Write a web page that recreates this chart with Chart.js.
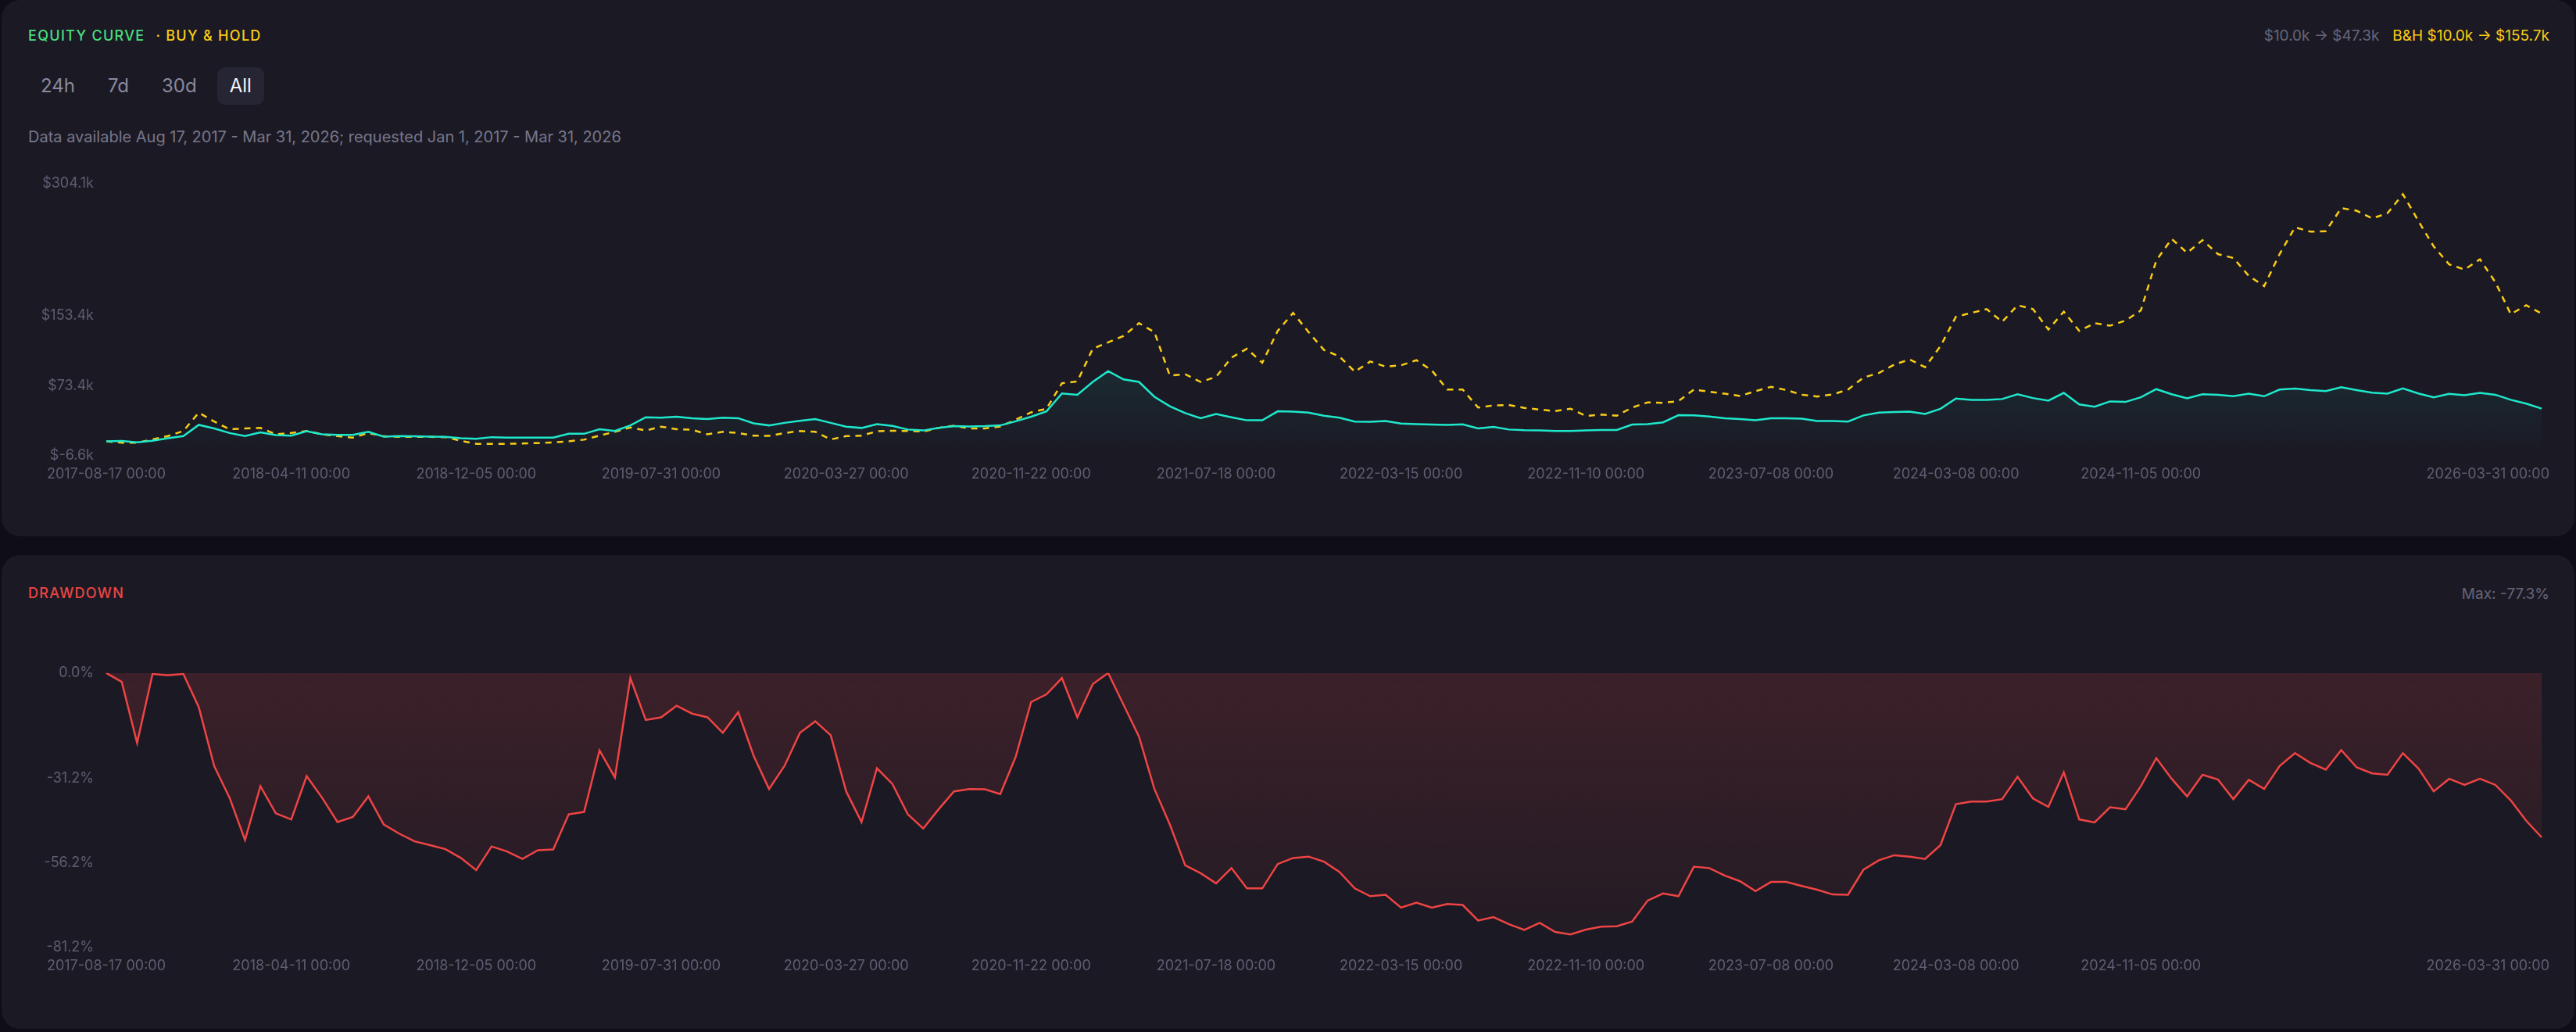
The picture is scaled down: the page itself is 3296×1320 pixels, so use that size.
<!DOCTYPE html>
<html>
<head>
<meta charset="utf-8">
<title>Equity curve</title>
<script src="https://cdn.jsdelivr.net/npm/chart.js@4.4.1/dist/chart.umd.min.js"></script>
<style>
  html, body {
    margin: 0;
    padding: 0;
    width: 3296px;
    height: 1320px;
    overflow: hidden;
    background: #0f0e17;
    font-family: Inter, "Noto Sans", sans-serif;
  }
  .card {
    position: absolute;
    left: 2px;
    width: 3292px;
    background: #1b1a24;
    border-radius: 24px;
  }
  #equityCard { top: 0; height: 686px; }
  #ddCard { top: 710px; height: 606px; }
  .label {
    position: absolute;
    font-size: 18px;
    line-height: 20px;
    white-space: nowrap;
  }
  .caps { font-weight: 500; letter-spacing: 1.3px; }
  .green { color: #4ade80; }
  .yellow { color: #facc15; }
  .red { color: #ef4444; }
  .muted { color: #66657a; }
  #ranges {
    position: absolute;
    left: 36px;
    top: 86px;
    display: flex;
    gap: 10px;
  }
  #ranges span {
    height: 48px;
    line-height: 48px;
    padding: 0 16px;
    border-radius: 10px;
    font-size: 24px;
    color: #8a899e;
  }
  #ranges span.active { background: #262533; color: #f4f4f8; }
  .chartBox { position: absolute; left: 36px; width: 3226px; }
</style>
</head>
<body>
<div class="card" id="equityCard"></div>
<div class="card" id="ddCard"></div>

<div class="label caps" style="left:36px; top:36px;">
  <span class="green">EQUITY CURVE</span><span class="yellow" style="margin-left:14px;">· BUY &amp; HOLD</span>
</div>
<div class="label" style="right:34px; top:36px; font-size:19px;">
  <span class="muted">$10.0k → $47.3k</span><span class="yellow" style="margin-left:17px;">B&amp;H $10.0k → $155.7k</span>
</div>
<div id="ranges"><span>24h</span><span>7d</span><span>30d</span><span class="active">All</span></div>
<div class="label" style="left:36px; top:164px; font-size:20px; line-height:22px; color:#77768b;">Data available Aug 17, 2017 - Mar 31, 2026; requested Jan 1, 2017 - Mar 31, 2026</div>
<div class="chartBox" style="top:208px; height:415px;"><canvas id="equityChart"></canvas></div>

<div class="label caps red" style="left:36px; top:749px;">DRAWDOWN</div>
<div class="label muted" style="right:34px; top:750px; font-size:19px;">Max: -77.3%</div>
<div class="chartBox" style="top:834px; height:418px;"><canvas id="drawdownChart"></canvas></div>

<script>
// Dates shown under both charts, one every TICK_EVERY points
const DATE_TICKS = [
    '2017-08-17 00:00', '2018-04-11 00:00', '2018-12-05 00:00', '2019-07-31 00:00',
    '2020-03-27 00:00', '2020-11-22 00:00', '2021-07-18 00:00', '2022-03-15 00:00',
    '2022-11-10 00:00', '2023-07-08 00:00', '2024-03-08 00:00', '2024-11-05 00:00'
];
const END_DATE = '2026-03-31 00:00';
const TICK_EVERY = 12;

// Strategy equity, thousands of dollars
const EQUITY_K = [
    10.0, 10.3, 8.9, 10.6, 13.5, 15.9, 28.7, 24.6, 19.4, 15.9, 20.2, 17.0,
    16.4, 21.4, 17.9, 17.3, 17.3, 20.8, 15.3, 15.9, 15.6, 15.3, 15.0, 13.5,
    12.9, 14.7, 14.1, 14.1, 14.1, 14.1, 18.5, 18.5, 23.7, 21.7, 28.1, 37.4,
    36.9, 38.0, 36.3, 35.4, 36.9, 36.3, 30.4, 28.1, 31.0, 33.4, 35.4, 31.0,
    26.7, 25.2, 29.6, 27.5, 23.4, 22.3, 25.2, 27.2, 26.9, 27.2, 28.1, 32.8,
    38.0, 44.2, 64.6, 63.1, 77.7, 90.0, 80.6, 77.7, 60.8, 50.0, 42.1, 36.3,
    41.2, 37.4, 33.9, 33.9, 44.2, 43.9, 42.7, 39.2, 36.9, 32.5, 32.2, 33.1,
    30.2, 29.6, 29.0, 28.7, 29.3, 24.6, 26.4, 23.4, 22.6, 22.3, 21.7, 21.7,
    22.3, 22.9, 22.9, 29.0, 29.6, 31.6, 39.8, 39.5, 38.3, 36.3, 35.4, 33.9,
    36.3, 36.3, 35.7, 33.1, 33.1, 32.5, 39.5, 42.7, 43.3, 43.9, 41.2, 47.1,
    58.7, 57.3, 57.3, 58.2, 63.7, 59.3, 56.4, 65.2, 52.0, 49.4, 55.5, 54.9,
    60.2, 69.5, 63.7, 59.0, 63.7, 63.1, 61.4, 64.3, 61.4, 69.0, 70.1, 68.4,
    67.2, 71.6, 68.4, 65.5, 64.3, 70.4, 64.6, 60.2, 64.0, 62.5, 65.2, 63.1,
    57.3, 52.9, 47.3
];

// Buy & hold, thousands of dollars
const BUY_HOLD_K = [
    10.0, 8.3, 8.3, 12.1, 15.9, 21.7, 42.7, 32.5, 23.7, 24.6, 25.2, 17.9,
    19.4, 21.7, 17.9, 15.9, 14.1, 19.4, 15.6, 15.0, 15.0, 15.0, 14.7, 10.6,
    7.1, 7.1, 7.1, 7.4, 8.0, 8.6, 10.0, 11.8, 16.4, 20.8, 25.8, 22.3,
    26.7, 23.7, 23.2, 17.9, 20.8, 19.4, 16.4, 16.2, 19.4, 21.7, 20.8, 12.1,
    15.9, 16.4, 21.4, 22.0, 21.7, 21.1, 25.2, 27.8, 24.6, 24.6, 26.9, 34.5,
    43.0, 47.1, 76.2, 78.3, 115.6, 122.9, 130.2, 144.8, 134.6, 85.0, 86.5, 77.7,
    83.5, 105.4, 115.6, 99.6, 136.0, 156.5, 134.6, 114.2, 106.9, 89.4, 101.0, 95.2,
    96.7, 102.5, 90.8, 69.0, 69.0, 48.5, 50.9, 51.4, 48.0, 46.2, 44.4, 47.1,
    38.9, 40.4, 39.2, 48.5, 54.4, 53.8, 55.8, 69.0, 66.6, 64.3, 61.7, 67.2,
    72.2, 68.4, 63.1, 61.1, 63.4, 69.0, 82.7, 87.9, 97.5, 103.4, 94.6, 118.5,
    152.1, 156.5, 160.8, 146.3, 165.2, 160.8, 137.5, 157.9, 136.0, 144.8, 141.9, 147.7,
    159.4, 216.3, 241.0, 225.0, 239.6, 223.6, 219.2, 198.8, 187.1, 223.6, 254.2, 249.2,
    249.8, 276.1, 273.1, 264.4, 270.2, 292.0, 261.5, 232.3, 211.9, 206.0, 217.7, 191.5,
    155.0, 165.2, 155.7
];

// Drawdown, percent
const DRAWDOWN_PCT = [
    0.0, -2.6, -20.7, -0.3, -0.7, -0.3, -10.1, -27.5, -36.9, -49.4, -33.5, -41.5,
    -43.3, -30.5, -36.9, -44.1, -42.6, -36.5, -44.8, -47.5, -49.8, -50.9, -52.1, -54.7,
    -58.3, -51.3, -52.8, -55.0, -52.4, -52.2, -41.8, -41.1, -22.9, -30.9, -1.5, -13.9,
    -13.1, -9.7, -12.0, -13.1, -17.7, -11.6, -24.5, -34.3, -27.5, -17.7, -14.3, -18.4,
    -35.0, -44.1, -28.2, -32.8, -41.8, -46.0, -40.3, -35.0, -34.3, -34.4, -35.8, -24.8,
    -8.6, -6.3, -1.5, -13.1, -3.3, 0.0, -9.4, -18.8, -34.3, -44.8, -56.9, -59.2,
    -62.2, -57.7, -63.7, -63.7, -56.5, -54.7, -54.3, -55.8, -58.8, -63.7, -66.0, -65.6,
    -69.4, -67.9, -69.4, -68.3, -68.6, -73.2, -72.2, -74.3, -76.0, -73.9, -76.6, -77.3,
    -75.9, -75.0, -74.9, -73.5, -67.3, -65.2, -66.0, -57.3, -57.7, -59.9, -61.6, -64.5,
    -61.8, -61.8, -63.0, -64.1, -65.5, -65.6, -58.2, -55.4, -53.9, -54.3, -55.0, -50.9,
    -38.8, -38.0, -38.0, -37.3, -30.7, -37.1, -39.6, -29.4, -43.3, -44.2, -39.7, -40.3,
    -33.5, -25.2, -31.3, -36.5, -30.1, -31.5, -37.3, -31.6, -34.3, -27.5, -23.7, -26.6,
    -28.6, -22.8, -27.9, -29.7, -30.1, -23.7, -28.2, -35.0, -31.3, -33.1, -31.3, -33.1,
    -37.7, -43.7, -48.6
];

// Axis ticks as printed on the reference
const EQUITY_Y_TICKS = [-6.6, 73.4, 153.4, 304.1];
const DRAWDOWN_Y_TICKS = [-81.2, -56.2, -31.2, 0.0];

const TICK_COLOR = '#5e5d72';
const TICK_FONT = { size: 18, family: 'Inter, sans-serif' };

// one label every TICK_EVERY points, last point gets the end date
const labels = EQUITY_K.map((_, i) => (i % TICK_EVERY === 0 && DATE_TICKS[i / TICK_EVERY]) || '');
labels[labels.length - 1] = END_DATE;

// The last date sits flush with the right edge instead of centred on its point
const endLabelPlugin = {
    id: 'endLabel',
    beforeDraw(chart) {
        const scale = chart.scales.x;
        const items = scale.getLabelItems();
        const last = items[items.length - 1];
        if (!last) return;
        last.options.textAlign = 'right';
        last.options.translation[0] = chart.chartArea.right + 10;
    }
};

function verticalGradient(rgb, top, bottom) {
    return function(context) {
        const chart = context.chart;
        const area = chart.chartArea;
        if (!area) return 'transparent';
        const g = chart.ctx.createLinearGradient(0, area.top, 0, area.bottom);
        g.addColorStop(0, `rgba(${rgb}, ${top})`);
        g.addColorStop(1, `rgba(${rgb}, ${bottom})`);
        return g;
    };
}

function buildOptions(min, max, yTicks, format) {
    return {
        responsive: true,
        maintainAspectRatio: false,
        animation: false,
        layout: { padding: { top: 20, right: 10, bottom: 0, left: 0 } },
        plugins: { legend: { display: false }, tooltip: { enabled: false } },
        elements: { point: { radius: 0 }, line: { tension: 0 } },
        scales: {
            x: {
                type: 'category',
                grid: { display: false, drawTicks: false },
                border: { display: false },
                ticks: {
                    autoSkip: false,
                    maxRotation: 0,
                    minRotation: 0,
                    padding: 13,
                    color: TICK_COLOR,
                    font: TICK_FONT
                },
                afterFit: function(scale) {
                    scale.height = 40;
                    scale.paddingLeft = 0;
                    scale.paddingRight = 0;
                }
            },
            y: {
                min: min,
                max: max,
                grid: { display: false, drawTicks: false },
                border: { display: false },
                afterBuildTicks: function(scale) {
                    scale.ticks = yTicks.map(v => ({ value: v }));
                },
                ticks: {
                    padding: 16,
                    color: TICK_COLOR,
                    font: TICK_FONT,
                    callback: format
                },
                afterFit: function(scale) {
                    scale.width = 100;
                }
            }
        }
    };
}

new Chart(document.getElementById('equityChart'), {
    type: 'line',
    data: {
        labels: labels,
        datasets: [
            {
                label: 'Equity',
                data: EQUITY_K,
                borderColor: '#1ee8cc',
                borderWidth: 2.5,
                fill: 'start',
                backgroundColor: verticalGradient('30, 232, 204', 0.26, 0.0)
            },
            {
                label: 'Buy & Hold',
                data: BUY_HOLD_K,
                borderColor: '#facc15',
                borderWidth: 2.5,
                borderDash: [8, 7],
                fill: false
            }
        ]
    },
    options: buildOptions(EQUITY_Y_TICKS[0], EQUITY_Y_TICKS[EQUITY_Y_TICKS.length - 1],
        EQUITY_Y_TICKS, v => `$${v.toFixed(1)}k`),
    plugins: [endLabelPlugin]
});

new Chart(document.getElementById('drawdownChart'), {
    type: 'line',
    data: {
        labels: labels,
        datasets: [{
            label: 'Drawdown',
            data: DRAWDOWN_PCT,
            borderColor: '#ef4444',
            borderWidth: 2.5,
            fill: 'origin',
            backgroundColor: verticalGradient('239, 68, 68', 0.16, 0.03)
        }]
    },
    options: buildOptions(DRAWDOWN_Y_TICKS[0], DRAWDOWN_Y_TICKS[DRAWDOWN_Y_TICKS.length - 1],
        DRAWDOWN_Y_TICKS, v => `${v.toFixed(1)}%`),
    plugins: [endLabelPlugin]
});
</script>
</body>
</html>
